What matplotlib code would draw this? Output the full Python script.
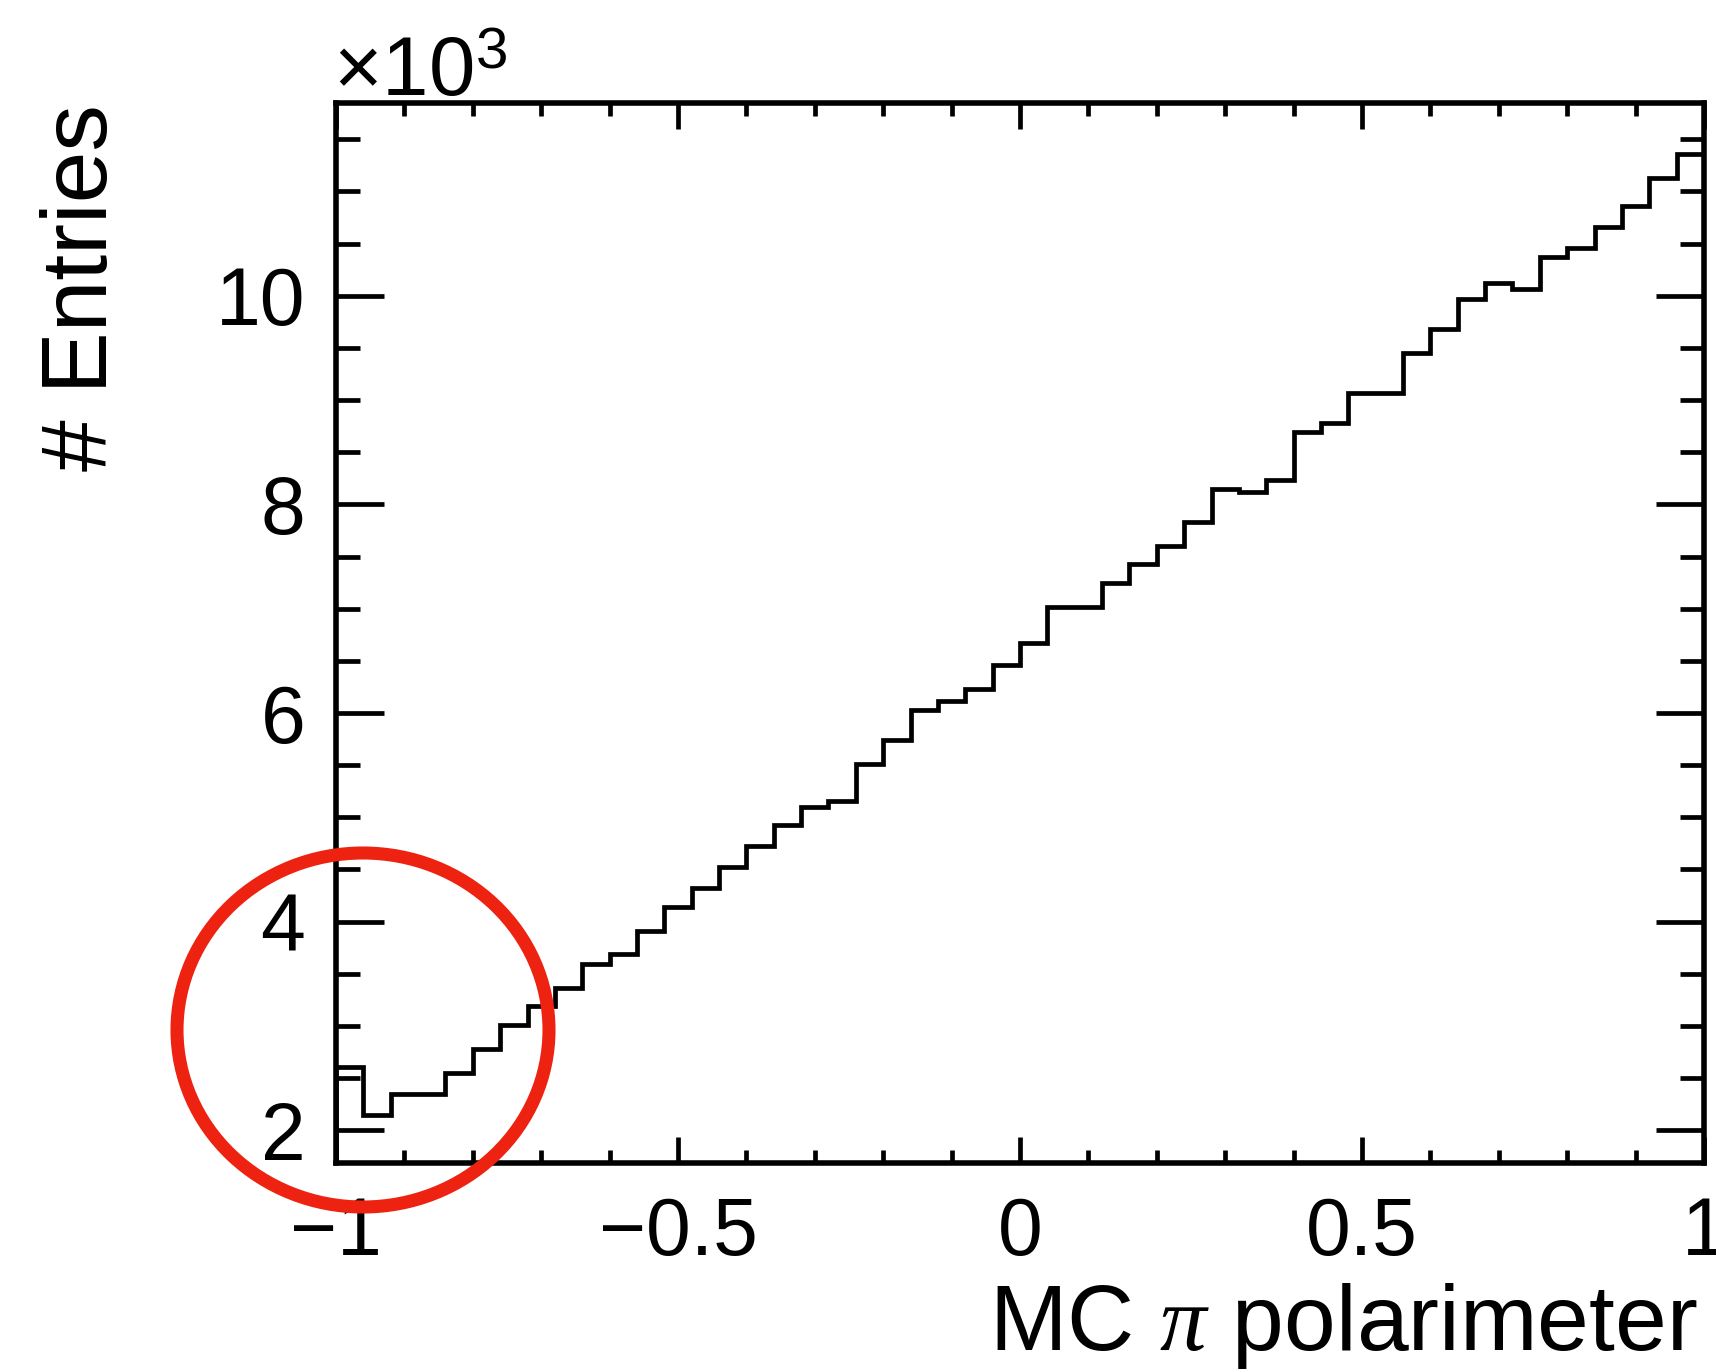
import numpy as np
import matplotlib
matplotlib.use("Agg")
import matplotlib.pyplot as plt
from matplotlib.patches import Ellipse
from matplotlib.ticker import FixedLocator, FixedFormatter, MultipleLocator

# ---- data ----
bin_edges_lo = -1.0
bin_edges_hi = 1.0
n_bins = 50
entries = [2607, 2144, 2348, 2348, 2549, 2783, 3013, 3189, 3362, 3598,
           3685, 3911, 4144, 4318, 4519, 4723, 4925, 5100, 5158, 5507,
           5737, 6027, 6114, 6229, 6465, 6667, 7015, 7015, 7248, 7424,
           7600, 7830, 8146, 8114, 8233, 8693, 8783, 9070, 9070, 9448,
           9677, 9968, 10119, 10061, 10374, 10461, 10662, 10863, 11127, 11358]
y_major = [2000, 4000, 6000, 8000, 10000]
y_major_labels = ["2", "4", "6", "8", "10"]
x_major = [-1.0, -0.5, 0.0, 0.5, 1.0]
x_major_labels = ["\u22121", "\u22120.5", "0", "0.5", "1"]
x_title = "MC $\\pi$ polarimeter"
y_title = "# Entries"
exp_text = "\u00d710$^{3}$"

plt.rcParams['font.family'] = ['Liberation Sans', 'DejaVu Sans']
plt.rcParams['mathtext.fontset'] = 'custom'
plt.rcParams['mathtext.rm'] = 'Liberation Sans'
plt.rcParams['mathtext.it'] = 'Liberation Serif:italic'
plt.rcParams['mathtext.bf'] = 'Liberation Sans:bold'

W, H = 1716, 1369
fig = plt.figure(figsize=(W / 100, H / 100), dpi=100)
L, R, T, B = 336, 1704, 103, 1163
ax = fig.add_axes([L / W, 1 - B / H, (R - L) / W, (B - T) / H])

edges = np.linspace(bin_edges_lo, bin_edges_hi, n_bins + 1)
ax.stairs(entries, edges, baseline=0, color='black', linewidth=3.4)

ax.set_xlim(-1, 1)
ax.set_ylim(1686, 11848)

ax.yaxis.set_major_locator(FixedLocator(y_major))
ax.yaxis.set_major_formatter(FixedFormatter(y_major_labels))
ax.yaxis.set_minor_locator(MultipleLocator(500))
ax.xaxis.set_major_locator(FixedLocator(x_major))
ax.xaxis.set_major_formatter(FixedFormatter(x_major_labels))
ax.xaxis.set_minor_locator(MultipleLocator(0.1))

for s in ax.spines.values():
    s.set_linewidth(4)

ax.tick_params(which='both', direction='in', top=True, right=True, width=3.4)
ax.tick_params(axis='y', which='major', length=34.5, labelsize=58, pad=22)
ax.tick_params(axis='y', which='minor', length=17)
ax.tick_params(axis='x', which='major', length=19, labelsize=58, pad=24)
ax.tick_params(axis='x', which='minor', length=9.5)

fig.text(1697 / W, 1 - 1350 / H, x_title, ha='right', va='baseline', fontsize=67)
fig.text(83 / W, 1 - 104 / H, y_title, rotation=90, ha='center', va='top', fontsize=67)
fig.text(333 / W, 1 - 96 / H, exp_text, ha='left', va='baseline', fontsize=60)

ell = Ellipse((363 / W, 1 - 1030 / H), 2 * 186 / W, 2 * 177 / H,
              transform=fig.transFigure, fill=False, edgecolor='#EE2211',
              linewidth=9.4, zorder=10)
fig.patches.append(ell)

fig.savefig("out.png", dpi=100)
